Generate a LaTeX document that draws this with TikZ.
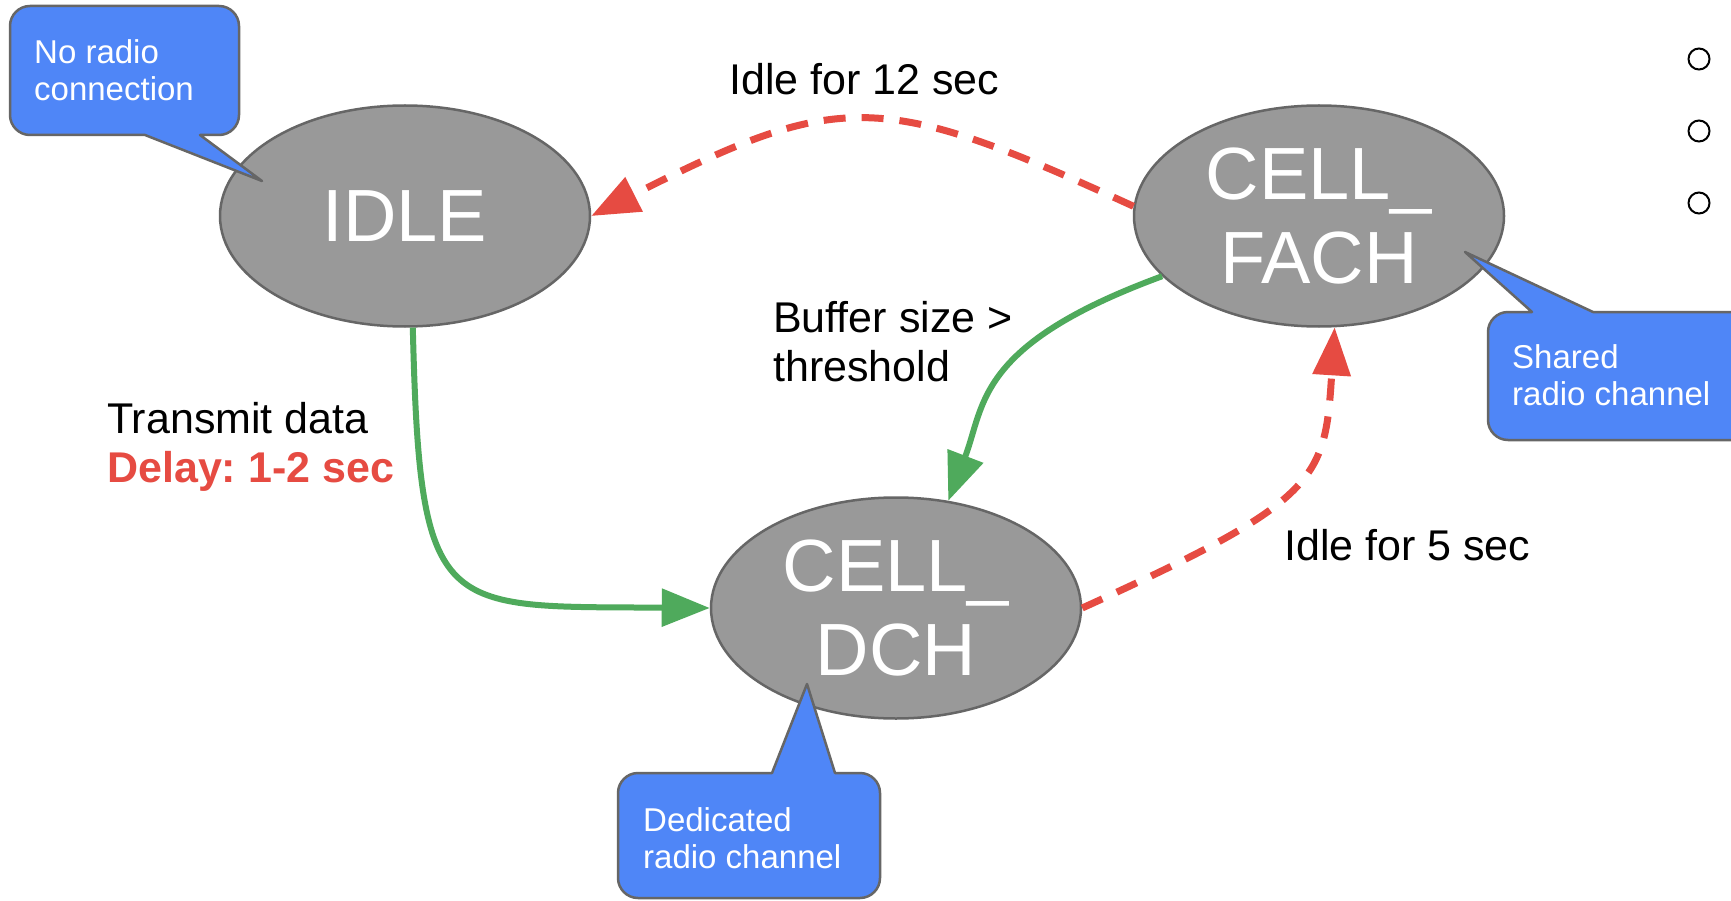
\documentclass[tikz,border=0pt]{standalone}
\usepackage{fontspec}
\setmainfont{Liberation Sans}
\usetikzlibrary{shapes.geometric,arrows.meta}
\definecolor{stategray}{HTML}{999999}
\definecolor{stateedge}{HTML}{666666}
\definecolor{notefill}{HTML}{4F86F7}
\definecolor{noteedge}{HTML}{666666}
\definecolor{goodgreen}{HTML}{4FAA5C}
\definecolor{idlered}{HTML}{E64B42}
\frenchspacing

\begin{document}
\begin{tikzpicture}[x=1pt,y=-1pt,
  state/.style={ellipse, fill=stategray, draw=stateedge, line width=2.5pt,
    minimum width=370pt, minimum height=221pt, inner sep=0pt, text=white,
    align=center, font=\fontsize{74}{84}\selectfont},
  trigger/.style={draw=goodgreen, line width=6pt,
    -{Triangle[length=48pt,width=37pt]}},
  timeout/.style={draw=idlered, line width=7pt, dash pattern=on 22pt off 16pt,
    -{Triangle[length=48pt,width=37pt]}},
  lbl/.style={inner sep=0pt, anchor=base west, align=left,
    font=\fontsize{43}{49}\selectfont},
  note/.style={fill=notefill, draw=noteedge, line width=2.5pt, line join=round},
  notetext/.style={inner sep=0pt, anchor=base west, align=left, text=white,
    font=\fontsize{33}{37}\selectfont},
  bullet/.style={circle, draw=black, line width=2pt, minimum size=21pt, inner sep=0pt}
]
\useasboundingbox (0,0) rectangle (1731,901);
\clip (0,0) rectangle (1731,901);
\fill[white] (0,0) rectangle (1731,901);

% states
\node[state] (idle) at (405,216) {IDLE};
\node[state] (fach) at (1319,216) {CELL\_\\FACH};
\node[state] (dch)  at (896,608)  {CELL\_\\DCH};

% transitions
\draw[trigger] (idle.-86) .. controls (420,620) and (440,606) .. (dch.west);
\draw[trigger] (fach.201) .. controls (975,345) and (985,405) .. (dch.64);
\draw[timeout] (fach.177) .. controls (880,90) and (840,90) .. (idle.east);
\draw[timeout] (dch.east) .. controls (1320,500) and (1325,480) .. (fach.-82);

% transition labels (multi-line nodes sit on the baseline of their last line)
\node[lbl] (t12)  at (729,95)   {Idle for 12 sec};
\node[lbl] (tbuf) at (773,381)  {Buffer size >\\threshold};
\node[lbl] (ttx)  at (107,482)  {Transmit data\\\textcolor{idlered}{\bfseries Delay: 1-2 sec}};
\node[lbl] (t5)   at (1284,560) {Idle for 5 sec};

% speech bubbles
\path[note] (145,135) -- (30,135) .. controls (19,135) and (10,126) .. (10,115)
  -- (10,26) .. controls (10,15) and (19,6) .. (30,6)
  -- (219,6) .. controls (230,6) and (239,15) .. (239,26)
  -- (239,115) .. controls (239,126) and (230,135) .. (219,135)
  -- (200,135) -- (262,181) -- cycle;
\node[notetext] (n1) at (34,101) {No radio\\connection};

\path[note] (1532,312) -- (1508,312) .. controls (1497,312) and (1488,321) .. (1488,332)
  -- (1488,420) .. controls (1488,431) and (1497,440) .. (1508,440)
  -- (1780,440) -- (1780,312) -- (1593,312) -- (1465,252) -- cycle;
\node[notetext] (n2) at (1512,405) {Shared\\radio channel};

\path[note] (772,773) -- (638,773) .. controls (627,773) and (618,782) .. (618,793)
  -- (618,878) .. controls (618,889) and (627,898) .. (638,898)
  -- (860,898) .. controls (871,898) and (880,889) .. (880,878)
  -- (880,793) .. controls (880,782) and (871,773) .. (860,773)
  -- (835,773) -- (807,684) -- cycle;
\node[notetext] (n3) at (643,868) {Dedicated\\radio channel};

% list bullets at the right edge
\node[bullet] (b1) at (1699,59)  {};
\node[bullet] (b2) at (1699,131) {};
\node[bullet] (b3) at (1699,203) {};
\end{tikzpicture}
\end{document}
